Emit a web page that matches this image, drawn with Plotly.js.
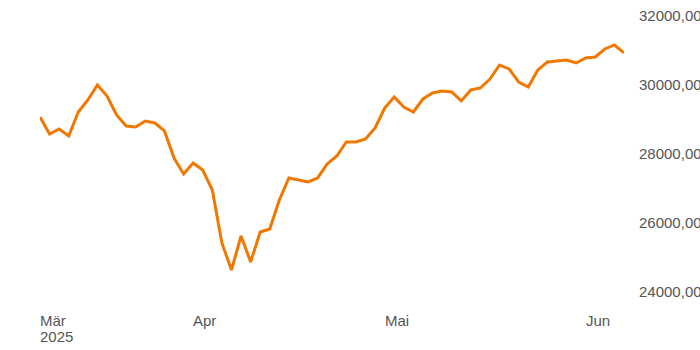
<!DOCTYPE html>
<html>
<head>
<meta charset="utf-8">
<script src="https://cdn.plot.ly/plotly-3.0.1.min.js"></script>
<style>html,body{margin:0;padding:0;background:#fff;}#chart{width:700px;height:350px;}</style>
</head>
<body>
<div id="chart"></div>
<script>
// Trading days (weekends and exchange holidays omitted)
var dates = [
  '2025-03-10','2025-03-11','2025-03-12','2025-03-13','2025-03-14',
  '2025-03-17','2025-03-18','2025-03-19','2025-03-20','2025-03-21',
  '2025-03-24','2025-03-25','2025-03-26','2025-03-27','2025-03-28',
  '2025-03-31','2025-04-01','2025-04-02','2025-04-03','2025-04-04',
  '2025-04-07','2025-04-08','2025-04-09','2025-04-10','2025-04-11',
  '2025-04-14','2025-04-15','2025-04-16','2025-04-17',
  '2025-04-22','2025-04-23','2025-04-24','2025-04-25',
  '2025-04-28','2025-04-29','2025-04-30',
  '2025-05-02','2025-05-05','2025-05-06','2025-05-07','2025-05-08','2025-05-09',
  '2025-05-12','2025-05-13','2025-05-14','2025-05-15','2025-05-16',
  '2025-05-19','2025-05-20','2025-05-21','2025-05-22','2025-05-23',
  '2025-05-26','2025-05-27','2025-05-28','2025-05-29','2025-05-30',
  '2025-06-02','2025-06-03','2025-06-04','2025-06-05','2025-06-06'
];
var values = [
  29064,28572,28716,28514,29208,
  29556,29990,29671,29122,28803,
  28774,28948,28890,28659,27877,
  27414,27733,27530,26951,25418,
  24637,25620,24868,25736,25823,
  26662,27299,27241,27183,
  27299,27704,27935,28340,
  28340,28427,28745,
  29324,29642,29353,29208,29584,29758,
  29816,29787,29527,29845,29903,
  30163,30568,30453,30076,29932,
  30424,30655,30684,30713,30626,
  30771,30800,31031,31147,30916
];
var holidays = ['2025-04-18','2025-04-21','2025-05-01'];
var monthNames = {'03':'Mär','04':'Apr','05':'Mai','06':'Jun'};
var yTicks = [24000,26000,28000,30000,32000];

var labelFont = {family:'Liberation Sans, Arial, sans-serif', size:15, color:'#555555'};

// month labels at first trading day of each month
var annotations = [];
var seen = {};
dates.forEach(function(d){
  var m = d.slice(5,7);
  if(!seen[m]){
    var first = Object.keys(seen).length === 0;
    seen[m] = true;
    annotations.push({
      xref:'x', yref:'paper', x:d, y:0,
      xanchor:'left', yanchor:'top', align:'left',
      yshift:-10, xshift:-2,
      showarrow:false, text:monthNames[m], font:labelFont
    });
    if(first){
      annotations.push({
        xref:'x', yref:'paper', x:d, y:0,
        xanchor:'left', yanchor:'top', align:'left',
        yshift:-26, xshift:-2,
        showarrow:false, text:d.slice(0,4), font:labelFont
      });
    }
  }
});

var trace = {
  x: dates, y: values, type:'scatter', mode:'lines',
  line:{color:'#f07800', width:3}, hoverinfo:'x+y'
};

var layout = {
  width:700, height:350,
  margin:{l:40, r:76, t:10, b:50},
  paper_bgcolor:'#ffffff', plot_bgcolor:'#ffffff',
  showlegend:false,
  separators:',.',
  font:labelFont,
  xaxis:{
    type:'date',
    range:[dates[0], dates[dates.length-1]],
    rangebreaks:[{bounds:['sat','mon']},{values:holidays}],
    showgrid:false, zeroline:false, showline:false,
    showticklabels:false, ticks:''
  },
  yaxis:{
    side:'right',
    range:[23768, 32159],
    tickvals:yTicks,
    tickformat:'.2f',
    showgrid:false, zeroline:false, showline:false,
    ticks:'', ticklabelstandoff:14,
    tickfont:labelFont
  },
  annotations:annotations
};

Plotly.newPlot('chart', [trace], layout, {displayModeBar:false, staticPlot:true});
</script>
</body>
</html>
